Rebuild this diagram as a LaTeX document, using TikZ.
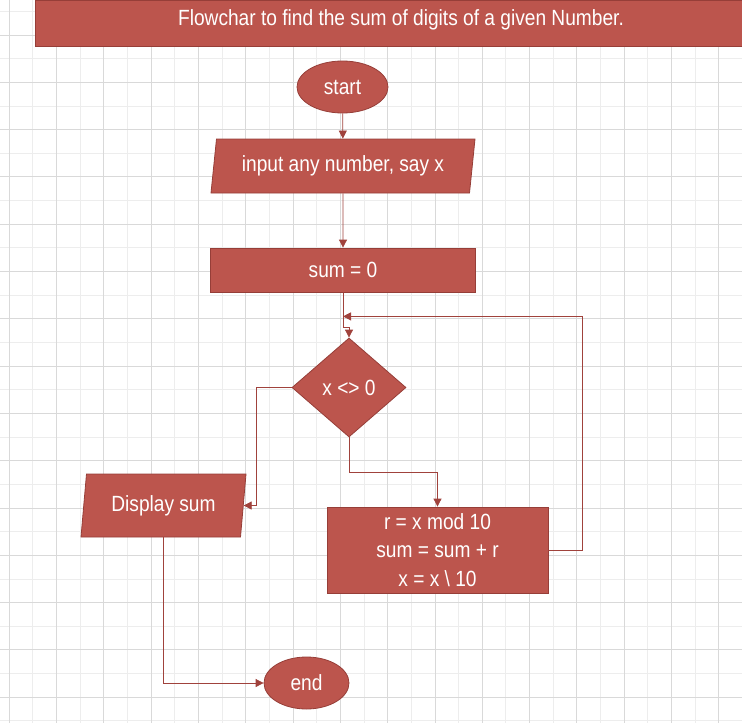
\documentclass[tikz,border=0pt]{standalone}
\usepackage{fontspec}
\newfontfamily\chartfont{Liberation Sans}[FakeStretch=0.87]
\usepackage{tikz}
\usetikzlibrary{
	arrows.meta,									% 提供各种箭头样式
	calc,											% 坐标计算
	shapes.geometric,								% 几何形状
}
\definecolor{boxred}{RGB}{188,85,77}
\definecolor{boxedge}{RGB}{150,62,56}
\definecolor{flowline}{RGB}{160,66,60}
\definecolor{gridminor}{RGB}{237,237,237}
\definecolor{gridmajor}{RGB}{217,217,217}

\begin{document}
\begin{tikzpicture}[x=1pt, y=-1pt,
		every node/.style={font=\chartfont\fontsize{22}{28.5}\selectfont, text=white},
		block/.style={draw=boxedge, fill=boxred, line width=0.8pt, inner sep=0pt},
		terminal/.style={block, ellipse},
		io/.style={block, trapezium, trapezium left angle=75, trapezium right angle=105,
			trapezium stretches body},
		process/.style={block, rectangle, align=center},
		decision/.style={block, diamond},
		flow/.style={draw=flowline, line width=0.8pt, -{Triangle[length=8pt,width=8pt]}},
	]
		\useasboundingbox (0,0) rectangle (742,723);
		% 背景网格
		\foreach \i in {0,...,31}
			\draw[gridminor, line width=1pt] ({9.3+23.65*\i},0) -- ({9.3+23.65*\i},723);
		\foreach \i in {0,...,30}
			\draw[gridminor, line width=1pt] (0,{11.4+23.65*\i}) -- (742,{11.4+23.65*\i});
		\foreach \i in {0,...,15}
			\draw[gridmajor, line width=1pt] ({9.3+47.3*\i},0) -- ({9.3+47.3*\i},723);
		\foreach \i in {0,...,14}
			\draw[gridmajor, line width=1pt] (0,{35+47.3*\i}) -- (742,{35+47.3*\i});

		% 标题
		\node[block, minimum width=711pt, minimum height=46pt] (title) at (390.5,23) {};
		\node (heading) at (401,20) {Flowchar to find the sum of digits of a given Number.};

		% 流程
		\node[terminal, minimum width=91pt, minimum height=52pt] (start) at (342.5,87) {start};
		\node[io, minimum width=264pt, minimum height=54pt] (input) at (343,166) {input any number, say x};
		\node[process, minimum width=265pt, minimum height=44pt] (init) at (343,270) {sum = 0};
		\node[decision, minimum width=114pt, minimum height=99pt] (cond) at (349,387.5) {x <> 0};
		\node[io, minimum width=165pt, minimum height=63pt] (display) at (163.5,505.5) {Display sum};
		\node[process, minimum width=221pt, minimum height=86pt] (body) at (437.5,550)
			{r = x mod 10\\ sum = sum + r\\ x = x \textbackslash{} 10};
		\node[terminal, minimum width=85pt, minimum height=52pt] (end) at (306.5,683) {end};

		\coordinate (loop) at ($(init.south)+(0,24)$);

		\draw[flow] (start) -- (input);
		\draw[flow] (input) -- (init);
		\draw[flow] (init.south) -- ++(0,35) -| (cond.north);
		\draw[flow] (cond.west) -- ++(-35,0) |- (display.east);
		\draw[flow] (cond.south) -- ++(0,35) -| (body.north);
		\draw[flow] (body.east) -- ++(34,0) |- (loop);
		\draw[flow] (display) |- (end);
	\end{tikzpicture}
\end{document}
